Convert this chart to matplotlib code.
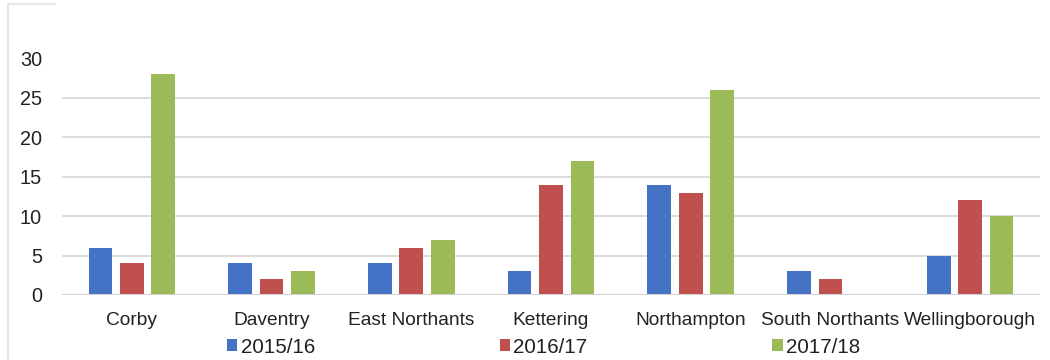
import matplotlib
matplotlib.use("Agg")
from matplotlib import pyplot as plt
from matplotlib.lines import Line2D
import numpy as np

districts = ["Corby", "Daventry", "East Northants", "Kettering",
             "Northampton", "South Northants", "Wellingborough"]

y2015_16 = [6, 4, 4, 3, 14, 3, 5]
y2016_17 = [4, 2, 6, 14, 13, 2, 12]
y2017_18 = [28, 3, 7, 17, 26, 0, 10]

years = ["2015/16", "2016/17", "2017/18"]
colors = ["#4472C4", "#C0504D", "#9BBB59"]

plt.rcParams["font.family"] = ["Liberation Sans", "DejaVu Sans"]

fig = plt.figure(figsize=(10.5, 3.6), dpi=100)
ax = fig.add_axes([62 / 1050, 1 - 295 / 360, 978 / 1050, (295 - 58.6) / 360])

x = np.arange(len(districts))
width = 0.17
step = 0.225
for i, (vals, lab, col) in enumerate(zip([y2015_16, y2016_17, y2017_18], years, colors)):
    ax.bar(x + (i - 1) * step, vals, width, color=col, label=lab, zorder=3)

ax.set_xlim(-0.5, len(districts) - 0.5)
ax.set_ylim(0, 30)
ax.set_yticks([0, 5, 10, 15, 20, 25, 30])
ax.set_xticks(x)
ax.set_xticklabels(districts)
ax.tick_params(axis="both", length=0, colors="#222222")
ax.tick_params(axis="y", pad=14.5, labelsize=14.3)
ax.tick_params(axis="x", pad=12, labelsize=13.8)

# light horizontal gridlines, no line at the top value
for v in [5, 10, 15, 20, 25]:
    ax.axhline(v, color="#D9D9D9", lw=1.3, zorder=1)
ax.axhline(0, color="#D0D0D0", lw=1.5, zorder=4)
for s in ax.spines.values():
    s.set_visible(False)

# faint frame at the top-left corner of the chart area
fig.add_artist(Line2D([8 / 1050, 8 / 1050], [0, 1 - 4 / 360],
                      transform=fig.transFigure, color="#E4E4E4", lw=1.2))
fig.add_artist(Line2D([8 / 1050, 55 / 1050], [1 - 4 / 360, 1 - 4 / 360],
                      transform=fig.transFigure, color="#E4E4E4", lw=1.2))

fig.legend(loc="center", bbox_to_anchor=(0.5176, 0.036), ncol=3, frameon=False,
           fontsize=14.8, handlelength=0.5, handleheight=0.5, handletextpad=0.15,
           columnspacing=9.0, labelcolor="#222222")

fig.savefig("out.png", dpi=100)
